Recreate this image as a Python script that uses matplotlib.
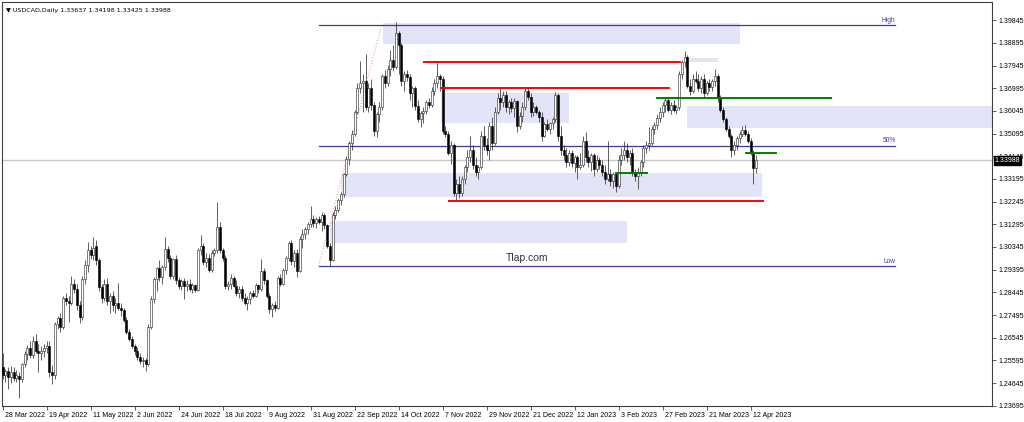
import numpy as np
import matplotlib
matplotlib.use("Agg")
import matplotlib.pyplot as plt
import matplotlib.transforms as mtransforms
from matplotlib.patches import Rectangle

# daily USDCAD candles, 28 Mar 2022 .. 14 Apr 2023 (one per weekday)
opens = [
    1.2530, 1.2500, 1.2515, 1.2490, 1.2510, 1.2485, 1.2495, 1.2480, 1.2545, 1.2585,
    1.2610, 1.2580, 1.2640, 1.2600, 1.2590, 1.2600, 1.2610, 1.2620, 1.2510, 1.2500,
    1.2710, 1.2735, 1.2700, 1.2820, 1.2810, 1.2800, 1.2880, 1.2860, 1.2790, 1.2740,
    1.2900, 1.2960, 1.3020, 1.3000, 1.3040, 1.2980, 1.2865, 1.2820, 1.2880, 1.2810,
    1.2830, 1.2790, 1.2800, 1.2780, 1.2770, 1.2730, 1.2680, 1.2650, 1.2620, 1.2600,
    1.2575, 1.2555, 1.2560, 1.2545, 1.2700, 1.2815, 1.2900, 1.2945, 1.2910, 1.2950,
    1.3025, 1.2990, 1.2915, 1.2985, 1.2895, 1.2870, 1.2890, 1.2870, 1.2880, 1.2860,
    1.2875, 1.2855, 1.3020, 1.3040, 1.2970, 1.2990, 1.2940, 1.3010, 1.3020, 1.3120,
    1.3020, 1.2990, 1.2870, 1.2880, 1.2905, 1.2870, 1.2840, 1.2860, 1.2820, 1.2800,
    1.2815, 1.2840, 1.2830, 1.2875, 1.2860, 1.2935, 1.2895, 1.2830, 1.2775, 1.2790,
    1.2780, 1.2905, 1.2880, 1.2940, 1.2990, 1.3050, 1.2975, 1.3010, 1.2935, 1.3070,
    1.3090, 1.3110, 1.3130, 1.3150, 1.3135, 1.3150, 1.3140, 1.3170, 1.3125, 1.3040,
    1.2980, 1.3170, 1.3190, 1.3230, 1.3255, 1.3340, 1.3405, 1.3470, 1.3510, 1.3600,
    1.3700, 1.3720, 1.3730, 1.3620, 1.3700, 1.3630, 1.3520, 1.3590, 1.3620, 1.3750,
    1.3720, 1.3780, 1.3820, 1.3790, 1.3930, 1.3880, 1.3730, 1.3760, 1.3745, 1.3680,
    1.3700, 1.3625, 1.3570, 1.3595, 1.3605, 1.3640, 1.3630, 1.3690, 1.3720, 1.3750,
    1.3740, 1.3520, 1.3510, 1.3430, 1.3460, 1.3260, 1.3300, 1.3260, 1.3320, 1.3370,
    1.3410, 1.3440, 1.3380, 1.3350, 1.3370, 1.3500, 1.3460, 1.3440, 1.3540, 1.3470,
    1.3600, 1.3660, 1.3640, 1.3670, 1.3620, 1.3640, 1.3615, 1.3645, 1.3540, 1.3585,
    1.3620, 1.3690, 1.3665, 1.3600, 1.3620, 1.3600, 1.3580, 1.3500, 1.3550, 1.3530,
    1.3555, 1.3570, 1.3670, 1.3500, 1.3440, 1.3420, 1.3390, 1.3430, 1.3385, 1.3410,
    1.3370, 1.3380, 1.3480, 1.3410, 1.3390, 1.3420, 1.3360, 1.3400, 1.3380, 1.3350,
    1.3320, 1.3340, 1.3310, 1.3340, 1.3290, 1.3400, 1.3420, 1.3440, 1.3410, 1.3430,
    1.3345, 1.3330, 1.3350, 1.3390, 1.3450, 1.3460, 1.3470, 1.3530, 1.3545, 1.3575,
    1.3600, 1.3630, 1.3650, 1.3610, 1.3630, 1.3610, 1.3620, 1.3760, 1.3810, 1.3830,
    1.3710, 1.3690, 1.3740, 1.3730, 1.3700, 1.3740, 1.3680, 1.3720, 1.3705, 1.3730,
    1.3750, 1.3660, 1.3610, 1.3570, 1.3530, 1.3500, 1.3440, 1.3460, 1.3490, 1.3510,
    1.3525, 1.3510, 1.3480, 1.3430, 1.33637,
]
highs = [
    1.2590, 1.2525, 1.2530, 1.2535, 1.2530, 1.2520, 1.2510, 1.2550, 1.2600, 1.2625,
    1.2640, 1.2660, 1.2670, 1.2630, 1.2620, 1.2630, 1.2640, 1.2640, 1.2540, 1.2720,
    1.2745, 1.2760, 1.2830, 1.2840, 1.2830, 1.2915, 1.2900, 1.2880, 1.2810, 1.2915,
    1.2980, 1.3055, 1.3040, 1.3077, 1.3065, 1.2990, 1.2880, 1.2900, 1.2905, 1.2840,
    1.2850, 1.2820, 1.2885, 1.2800, 1.2780, 1.2740, 1.2690, 1.2660, 1.2630, 1.2615,
    1.2590, 1.2575, 1.2570, 1.2710, 1.2830, 1.2910, 1.2950, 1.2980, 1.2960, 1.3076,
    1.3040, 1.3000, 1.2990, 1.3000, 1.2910, 1.2900, 1.2905, 1.2895, 1.2900, 1.2885,
    1.2880, 1.3030, 1.3083, 1.3050, 1.3010, 1.3005, 1.3020, 1.3030, 1.3222, 1.3140,
    1.3030, 1.3000, 1.2890, 1.2920, 1.2915, 1.2895, 1.2870, 1.2870, 1.2840, 1.2830,
    1.2850, 1.2855, 1.2885, 1.2880, 1.2985, 1.2945, 1.2900, 1.2840, 1.2800, 1.2810,
    1.2915, 1.2920, 1.2945, 1.2995, 1.3060, 1.3065, 1.3020, 1.3025, 1.3080, 1.3110,
    1.3120, 1.3140, 1.3208, 1.3170, 1.3160, 1.3165, 1.3180, 1.3175, 1.3130, 1.3050,
    1.3180, 1.3205, 1.3240, 1.3265, 1.3345, 1.3415, 1.3480, 1.3525, 1.3610, 1.3720,
    1.3814, 1.3760, 1.3842, 1.3720, 1.3740, 1.3640, 1.3600, 1.3640, 1.3760, 1.3775,
    1.3795, 1.3860, 1.3880, 1.3977, 1.3940, 1.3890, 1.3770, 1.3775, 1.3760, 1.3710,
    1.3710, 1.3650, 1.3605, 1.3620, 1.3650, 1.3660, 1.3705, 1.3740, 1.3807, 1.3760,
    1.3750, 1.3540, 1.3520, 1.3480, 1.3470, 1.3320, 1.3330, 1.3330, 1.3380, 1.3440,
    1.3500, 1.3460, 1.3410, 1.3380, 1.3520, 1.3540, 1.3490, 1.3560, 1.3580, 1.3620,
    1.3680, 1.3700, 1.3690, 1.3690, 1.3650, 1.3660, 1.3660, 1.3650, 1.3600, 1.3640,
    1.3703, 1.3700, 1.3680, 1.3640, 1.3630, 1.3610, 1.3600, 1.3560, 1.3570, 1.3560,
    1.3580, 1.3685, 1.3680, 1.3540, 1.3460, 1.3450, 1.3440, 1.3440, 1.3420, 1.3420,
    1.3430, 1.3500, 1.3515, 1.3440, 1.3430, 1.3430, 1.3420, 1.3410, 1.3400, 1.3380,
    1.3480, 1.3360, 1.3350, 1.3345, 1.3420, 1.3450, 1.3480, 1.3470, 1.3440, 1.3450,
    1.3360, 1.3370, 1.3400, 1.3460, 1.3480, 1.3536, 1.3540, 1.3560, 1.3590, 1.3620,
    1.3640, 1.3660, 1.3660, 1.3640, 1.3650, 1.3630, 1.3770, 1.3820, 1.3856, 1.3840,
    1.3740, 1.3760, 1.3770, 1.3760, 1.3750, 1.3760, 1.3730, 1.3740, 1.3740, 1.3780,
    1.3760, 1.3670, 1.3620, 1.3580, 1.3540, 1.3510, 1.3480, 1.3500, 1.3520, 1.3540,
    1.3545, 1.3520, 1.3490, 1.3440, 1.34198,
]
lows = [
    1.2480, 1.2470, 1.2440, 1.2465, 1.2475, 1.2470, 1.2403, 1.2470, 1.2530, 1.2560,
    1.2570, 1.2570, 1.2590, 1.2510, 1.2560, 1.2575, 1.2590, 1.2490, 1.2459, 1.2480,
    1.2690, 1.2680, 1.2690, 1.2790, 1.2720, 1.2790, 1.2840, 1.2770, 1.2715, 1.2730,
    1.2880, 1.2930, 1.2985, 1.2980, 1.2960, 1.2850, 1.2800, 1.2810, 1.2790, 1.2760,
    1.2765, 1.2760, 1.2770, 1.2745, 1.2720, 1.2670, 1.2640, 1.2610, 1.2580, 1.2560,
    1.2545, 1.2530, 1.2517, 1.2535, 1.2690, 1.2800, 1.2850, 1.2890, 1.2880, 1.2940,
    1.2970, 1.2900, 1.2900, 1.2880, 1.2860, 1.2855, 1.2818, 1.2850, 1.2850, 1.2840,
    1.2845, 1.2850, 1.3000, 1.2960, 1.2950, 1.2930, 1.2930, 1.2995, 1.3010, 1.3010,
    1.2975, 1.2860, 1.2855, 1.2860, 1.2865, 1.2830, 1.2820, 1.2810, 1.2790, 1.2769,
    1.2795, 1.2820, 1.2825, 1.2840, 1.2850, 1.2880, 1.2820, 1.2760, 1.2742, 1.2765,
    1.2775, 1.2870, 1.2875, 1.2920, 1.2975, 1.2960, 1.2950, 1.2910, 1.2930, 1.3030,
    1.3070, 1.3090, 1.3120, 1.3120, 1.3115, 1.3130, 1.3100, 1.3110, 1.3030, 1.2953,
    1.2975, 1.3150, 1.3180, 1.3210, 1.3245, 1.3330, 1.3380, 1.3440, 1.3500, 1.3590,
    1.3680, 1.3600, 1.3610, 1.3600, 1.3610, 1.3500, 1.3495, 1.3560, 1.3610, 1.3700,
    1.3710, 1.3750, 1.3770, 1.3780, 1.3760, 1.3710, 1.3690, 1.3730, 1.3650, 1.3620,
    1.3610, 1.3560, 1.3536, 1.3555, 1.3590, 1.3615, 1.3620, 1.3670, 1.3700, 1.3690,
    1.3510, 1.3494, 1.3420, 1.3382, 1.3250, 1.3229, 1.3240, 1.3250, 1.3300, 1.3350,
    1.3390, 1.3360, 1.3330, 1.3320, 1.3360, 1.3440, 1.3420, 1.3400, 1.3440, 1.3460,
    1.3590, 1.3610, 1.3620, 1.3600, 1.3590, 1.3600, 1.3580, 1.3515, 1.3530, 1.3560,
    1.3610, 1.3650, 1.3580, 1.3585, 1.3590, 1.3560, 1.3480, 1.3495, 1.3520, 1.3510,
    1.3530, 1.3560, 1.3480, 1.3420, 1.3400, 1.3370, 1.3375, 1.3370, 1.3350, 1.3320,
    1.3360, 1.3370, 1.3390, 1.3370, 1.3355, 1.3330, 1.3350, 1.3360, 1.3330, 1.3300,
    1.3310, 1.3290, 1.3280, 1.3264, 1.3280, 1.3380, 1.3400, 1.3390, 1.3380, 1.3330,
    1.3310, 1.3278, 1.3330, 1.3370, 1.3430, 1.3440, 1.3460, 1.3510, 1.3530, 1.3560,
    1.3580, 1.3600, 1.3600, 1.3590, 1.3600, 1.3590, 1.3610, 1.3740, 1.3790, 1.3700,
    1.3670, 1.3680, 1.3720, 1.3690, 1.3680, 1.3660, 1.3670, 1.3690, 1.3690, 1.3710,
    1.3640, 1.3600, 1.3560, 1.3520, 1.3490, 1.3410, 1.3420, 1.3440, 1.3470, 1.3495,
    1.3500, 1.3470, 1.3420, 1.3300, 1.33425,
]
closes = [
    1.2500, 1.2515, 1.2490, 1.2510, 1.2485, 1.2500, 1.2480, 1.2545, 1.2585, 1.2610,
    1.2580, 1.2640, 1.2600, 1.2590, 1.2600, 1.2610, 1.2620, 1.2510, 1.2500, 1.2710,
    1.2735, 1.2700, 1.2820, 1.2810, 1.2800, 1.2880, 1.2860, 1.2790, 1.2740, 1.2900,
    1.2960, 1.3020, 1.3000, 1.3030, 1.2980, 1.2865, 1.2820, 1.2880, 1.2810, 1.2830,
    1.2790, 1.2800, 1.2780, 1.2770, 1.2730, 1.2680, 1.2650, 1.2620, 1.2600, 1.2575,
    1.2555, 1.2560, 1.2545, 1.2700, 1.2815, 1.2900, 1.2945, 1.2910, 1.2950, 1.3025,
    1.2990, 1.2915, 1.2985, 1.2895, 1.2870, 1.2890, 1.2870, 1.2880, 1.2860, 1.2875,
    1.2855, 1.3020, 1.3040, 1.2970, 1.2990, 1.2940, 1.3010, 1.3020, 1.3120, 1.3020,
    1.2990, 1.2870, 1.2880, 1.2905, 1.2870, 1.2840, 1.2860, 1.2820, 1.2800, 1.2815,
    1.2840, 1.2830, 1.2875, 1.2860, 1.2935, 1.2895, 1.2830, 1.2775, 1.2790, 1.2780,
    1.2905, 1.2880, 1.2940, 1.2990, 1.3050, 1.2975, 1.3010, 1.2935, 1.3070, 1.3090,
    1.3110, 1.3130, 1.3150, 1.3135, 1.3150, 1.3140, 1.3170, 1.3125, 1.3040, 1.2980,
    1.3170, 1.3190, 1.3230, 1.3255, 1.3340, 1.3405, 1.3470, 1.3510, 1.3600, 1.3700,
    1.3720, 1.3730, 1.3620, 1.3700, 1.3630, 1.3520, 1.3590, 1.3620, 1.3750, 1.3720,
    1.3780, 1.3820, 1.3790, 1.3930, 1.3880, 1.3730, 1.3760, 1.3745, 1.3680, 1.3700,
    1.3625, 1.3570, 1.3595, 1.3605, 1.3640, 1.3630, 1.3690, 1.3720, 1.3750, 1.3740,
    1.3520, 1.3510, 1.3430, 1.3460, 1.3260, 1.3300, 1.3260, 1.3320, 1.3370, 1.3410,
    1.3440, 1.3380, 1.3350, 1.3370, 1.3500, 1.3460, 1.3440, 1.3540, 1.3470, 1.3600,
    1.3660, 1.3640, 1.3670, 1.3620, 1.3640, 1.3615, 1.3645, 1.3540, 1.3585, 1.3620,
    1.3690, 1.3665, 1.3600, 1.3620, 1.3600, 1.3580, 1.3500, 1.3550, 1.3530, 1.3555,
    1.3570, 1.3670, 1.3500, 1.3440, 1.3420, 1.3390, 1.3430, 1.3385, 1.3410, 1.3370,
    1.3380, 1.3480, 1.3410, 1.3390, 1.3420, 1.3360, 1.3400, 1.3380, 1.3350, 1.3320,
    1.3340, 1.3310, 1.3340, 1.3290, 1.3400, 1.3420, 1.3440, 1.3410, 1.3430, 1.3345,
    1.3330, 1.3350, 1.3390, 1.3450, 1.3460, 1.3470, 1.3530, 1.3545, 1.3575, 1.3600,
    1.3630, 1.3650, 1.3610, 1.3630, 1.3610, 1.3620, 1.3760, 1.3810, 1.3830, 1.3710,
    1.3690, 1.3740, 1.3730, 1.3700, 1.3740, 1.3680, 1.3720, 1.3705, 1.3730, 1.3750,
    1.3660, 1.3610, 1.3570, 1.3530, 1.3500, 1.3440, 1.3460, 1.3490, 1.3510, 1.3525,
    1.3510, 1.3480, 1.3430, 1.3364, 1.33988,
]

date_labels = ["28 Mar 2022", "19 Apr 2022", "11 May 2022", "2 Jun 2022", "24 Jun 2022",
               "18 Jul 2022", "9 Aug 2022", "31 Aug 2022", "22 Sep 2022", "14 Oct 2022",
               "7 Nov 2022", "29 Nov 2022", "21 Dec 2022", "12 Jan 2023", "3 Feb 2023",
               "27 Feb 2023", "21 Mar 2023", "12 Apr 2023"]
date_label_bars = [0, 16, 32, 48, 64, 80, 96, 112, 128, 144, 160, 176, 192, 208, 224, 240, 256, 272]
price_ticks = [1.39845, 1.38895, 1.37945, 1.36995, 1.36045, 1.35095, 1.34145, 1.33195, 1.32245,
               1.31295, 1.30345, 1.29395, 1.28445, 1.27495, 1.26545, 1.25595, 1.24645, 1.23695]

# chart objects: (bar from, bar to, price)
fib_high = 1.39636
fib_low = 1.29534
fib_from, fib_to = 114.9, 324.7
fib_anchor_bars = [114.9, 137.8]
zones = [  # bar from, bar to, price low, price high
    (138.2, 268.0, 1.38867, 1.39745),
    (159.3, 205.8, 1.35552, 1.36806),
    (249.0, 362.0, 1.35343, 1.36263),
    (122.9, 276.0, 1.32460, 1.33463),
    (118.9, 226.9, 1.30495, 1.31415),
    (249.5, 260.0, 1.38102, 1.38269),
]
red_lines = [(153.1, 246.2, 1.38102), (159.3, 242.2, 1.37015), (162.2, 276.4, 1.32293)]
green_lines = [(237.8, 301.1, 1.36568), (270.2, 281.1, 1.34299), (222.9, 234.2, 1.33434)]
last_price = 1.33988
header = "\u25bc USDCAD,Daily 1.33637 1.34198 1.33425 1.33988"

assert len(opens) == len(highs) == len(lows) == len(closes) == 275

plt.rcParams['font.family'] = ['Liberation Sans', 'DejaVu Sans']

W, H = 1024, 422
fig = plt.figure(figsize=(W / 100, H / 100), dpi=100)
ax = fig.add_axes([2 / W, (H - 406) / H, 990 / W, 404 / H])

o = np.array(opens)
h = np.array(highs)
l = np.array(lows)
c = np.array(closes)
x = np.arange(len(o))

# zones behind everything
for x0, x1, p0, p1 in zones:
    ax.add_patch(Rectangle((x0, p0), x1 - x0, p1 - p0, facecolor='#e3e4f8',
                           edgecolor='none', zorder=0))

ax.axhline(last_price, color='#c8c8c8', lw=1, zorder=1)

# fibo levels
for p in [fib_high, (fib_high + fib_low) / 2, fib_low]:
    ax.plot([fib_from, fib_to], [p, p], color='#3c3ca0', lw=0.9, zorder=1)
ax.plot(fib_anchor_bars, [fib_low, fib_high], color='#f4a0a0', lw=0.8, ls=':', zorder=1)
for name, p in [("High", fib_high), ("50%", (fib_high + fib_low) / 2), ("Low", fib_low)]:
    ax.text(fib_to, p + 0.0006, name, ha='right', va='bottom', fontsize=4.8, color='#3c3ca0')

# candles
ax.vlines(x, l, h, color='#202020', lw=0.5, zorder=2)
bull = c >= o
ax.bar(x[bull], c[bull] - o[bull], bottom=o[bull], width=0.7, color='white',
       edgecolor='#202020', linewidth=0.4, zorder=3)
ax.bar(x[~bull], o[~bull] - c[~bull], bottom=c[~bull], width=0.7, color='black',
       edgecolor='black', linewidth=0.4, zorder=3)

for x0, x1, p in red_lines:
    ax.plot([x0, x1], [p, p], color='#ff0000', lw=1.4, zorder=4)
for x0, x1, p in green_lines:
    ax.plot([x0, x1], [p, p], color='#008000', lw=1.4, zorder=4)

ax.text(190.9, 1.29868, "Tlap.com", ha='center', va='center', fontsize=7.5, color='#333333')
ax.text(0.004, 0.985, header, transform=ax.transAxes, ha='left', va='top', fontsize=4.6,
        family=['DejaVu Sans'])

ax.set_xlim(-0.2, 359.8)
ax.set_ylim(1.23683, 1.40610)

ax.set_xticks(date_label_bars)
ax.set_xticklabels(date_labels)
ax.yaxis.tick_right()
ax.set_yticks(price_ticks)
ax.set_yticklabels([f"{p:.5f}" for p in price_ticks])
ax.tick_params(axis='both', labelsize=5, length=3, width=0.6, color='#404040', pad=1.5)
offset = mtransforms.ScaledTranslation(2 / 100, 0, fig.dpi_scale_trans)
for lbl in ax.get_xticklabels():
    lbl.set_horizontalalignment('left')
    lbl.set_transform(lbl.get_transform() + offset)
for sp in ax.spines.values():
    sp.set_color('#404040')
    sp.set_linewidth(0.8)

# current price box on the price scale, covering the tick label under it
ax.annotate(f"{last_price:.5f}", xy=(1.0, last_price), xycoords=('axes fraction', 'data'),
            xytext=(2, 0), textcoords='offset points', ha='left', va='center', fontsize=5,
            color='white', bbox=dict(boxstyle='square,pad=0.15', fc='black', ec='black'),
            annotation_clip=False, zorder=10)

fig.savefig("out.png", dpi=100)
